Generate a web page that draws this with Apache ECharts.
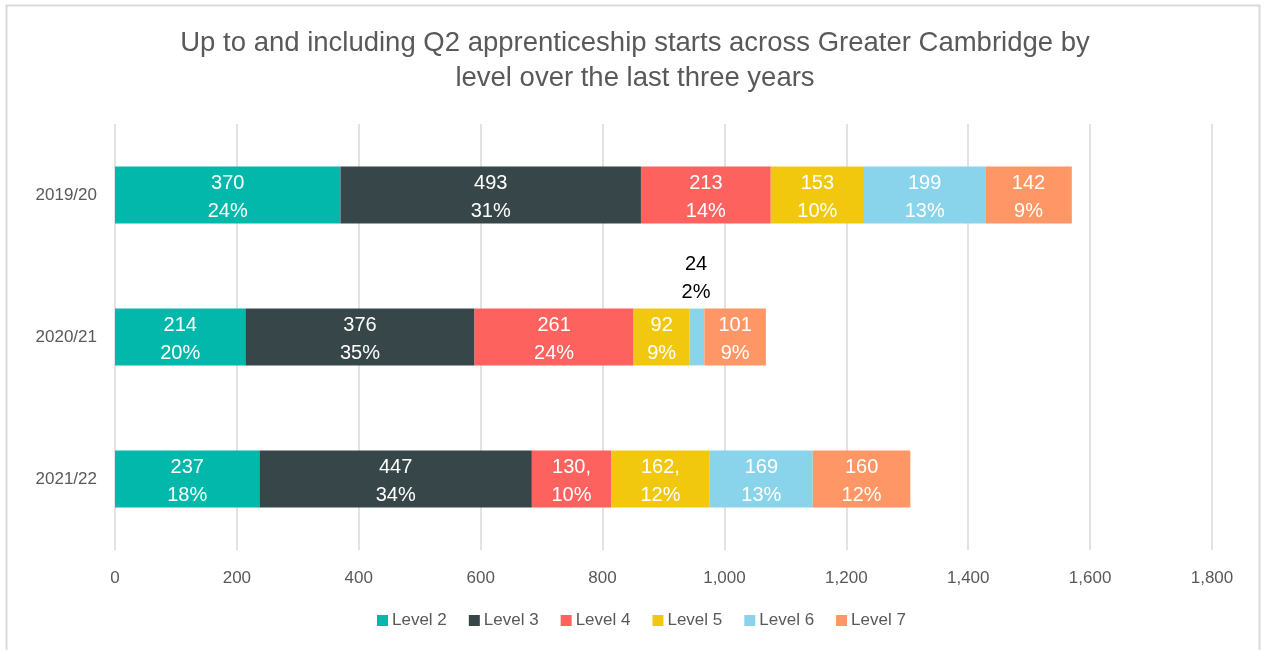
<!DOCTYPE html>
<html>
<head>
<meta charset="utf-8">
<script src="https://cdn.jsdelivr.net/npm/echarts@6/dist/echarts.min.js"></script>
<style>
html,body{margin:0;padding:0;background:#fff;}
#chart{width:1270px;height:650px;}
</style>
</head>
<body>
<div id="chart"></div>
<script>
var categories = ['2019/20', '2020/21', '2021/22'];
var seriesNames = ['Level 2', 'Level 3', 'Level 4', 'Level 5', 'Level 6', 'Level 7'];
var level2 = [370, 214, 237];
var level3 = [493, 376, 447];
var level4 = [213, 261, 130];
var level5 = [153, 92, 162];
var level6 = [199, 24, 169];
var level7 = [142, 101, 160];
var pct2 = [24, 20, 18];
var pct3 = [31, 35, 34];
var pct4 = [14, 24, 10];
var pct5 = [10, 9, 12];
var pct6 = [13, 2, 13];
var pct7 = [9, 9, 12];
// label separators as shown in source (some labels have a trailing comma)
var sep4 = ['', '', ','];
var sep5 = ['', '', ','];
var xTicks = [0, 200, 400, 600, 800, 1000, 1200, 1400, 1600, 1800];

var colors = ['#01B8AA', '#374649', '#FD625E', '#F2C80F', '#8AD4EB', '#FE9666'];
var values = [level2, level3, level4, level5, level6, level7];
var pcts = [pct2, pct3, pct4, pct5, pct6, pct7];
var seps = [null, null, sep4, sep5, null, null];
var FONT = 'Liberation Sans';

var series = seriesNames.map(function (name, si) {
  return {
    name: name,
    type: 'bar',
    stack: 'total',
    barCategoryGap: '60%',
    itemStyle: { color: colors[si] },
    label: {
      show: true,
      position: 'inside',
      color: '#ffffff',
      fontFamily: FONT,
      fontSize: 20,
      lineHeight: 28,
      offset: [0, 2]
    },
    data: values[si].map(function (v, ci) {
      var sep = seps[si] ? seps[si][ci] : '';
      var item = {
        value: v,
        label: { formatter: v + sep + '\n' + pcts[si][ci] + '%' }
      };
      if (si === 4 && ci === 1) {
        item.label.position = 'top';
        item.label.color = '#000000';
        item.label.distance = 2;
        item.label.offset = [-1, 0];
      }
      return item;
    }),
    emphasis: { disabled: true }
  };
});

var chart = echarts.init(document.getElementById('chart'), null, { renderer: 'canvas' });
chart.setOption({
  animation: false,
  backgroundColor: '#ffffff',
  color: colors,
  title: {
    text: 'Up to and including Q2 apprenticeship starts across Greater Cambridge by\nlevel over the last three years',
    left: 'center',
    top: 21,
    textStyle: {
      fontFamily: FONT,
      fontSize: 27.5,
      fontWeight: 'normal',
      color: '#595959',
      lineHeight: 35
    }
  },
  legend: {
    data: seriesNames,
    bottom: 16,
    left: 372,
    icon: 'rect',
    itemWidth: 11,
    itemHeight: 11,
    itemGap: 22,
    textStyle: { fontFamily: FONT, fontSize: 17, color: '#595959', padding: [0, 0, 0, -1] }
  },
  grid: { left: 115, right: 58, top: 124, bottom: 100, containLabel: false },
  xAxis: {
    type: 'value',
    min: 0,
    max: 1800,
    interval: 200,
    axisLine: { show: false },
    axisTick: { show: false },
    splitLine: { show: true, lineStyle: { color: '#D9D9D9', width: 1.5 } },
    axisLabel: {
      fontFamily: FONT,
      fontSize: 17,
      color: '#595959',
      margin: 20,
      formatter: function (v) { return v.toLocaleString('en-US'); }
    }
  },
  yAxis: {
    type: 'category',
    data: categories,
    inverse: true,
    axisLine: { show: false },
    axisTick: { show: false },
    splitLine: { show: false },
    axisLabel: { fontFamily: FONT, fontSize: 17, color: '#595959', margin: 18 }
  },
  graphic: [{
    type: 'rect',
    shape: { x: 6.5, y: 5.5, width: 1253, height: 660 },
    style: { fill: null, stroke: '#D9D9D9', lineWidth: 2 },
    silent: true
  }],
  series: series
});
</script>
</body>
</html>
